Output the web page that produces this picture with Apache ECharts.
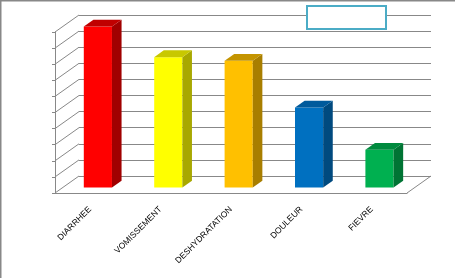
<!DOCTYPE html>
<html>
<head>
<meta charset="utf-8">
<script src="https://cdn.jsdelivr.net/npm/echarts@6/dist/echarts.min.js"></script>
<style>html,body{margin:0;padding:0;background:#fff}#c{width:455px;height:278px}</style>
</head>
<body>
<div id="c"></div>
<script>
var categories = ['DIARRHEE', 'VOMISSEMENT', 'DESHYDRATATION', 'DOULEUR', 'FIEVRE'];
var values = [10.0, 8.1, 7.87, 4.97, 2.35];
var tickValues = [0, 1, 2, 3, 4, 5, 6, 7, 8, 9, 10];

var frontColors = ['#FF0000', '#FFFF00', '#FFC000', '#0070C0', '#00B050'];
var sideColors = ['#A00000', '#A8A800', '#A87E00', '#004A7F', '#007434'];
var topColors = ['#C00000', '#C8C800', '#C49400', '#005A9C', '#008A3E'];

var DX = 24, DY = -17;          // depth of the floor in pixels
var F0 = 0.32, F1 = 0.72;        // bar front/back depth fractions
var GRID = '#888888';

var chart = echarts.init(document.getElementById('c'));

function barItem(params, api) {
  var i = api.value(0);
  var v = api.value(1);
  var top = api.coord([i, v]);
  var base = api.coord([i, 0]);
  var band = api.size([1, 0])[0];
  var w = band * 0.4;
  var fx = top[0] - w / 2 + DX * F0;
  var fy0 = base[1] + DY * F0;
  var fy1 = top[1] + DY * F0;
  var ddx = DX * (F1 - F0), ddy = DY * (F1 - F0);
  var idx = params.dataIndex;
  return {
    type: 'group',
    children: [
      { type: 'rect', shape: { x: fx, y: fy1, width: w, height: fy0 - fy1 },
        style: { fill: frontColors[idx] } },
      { type: 'polygon', shape: { points: [[fx + w, fy1], [fx + w + ddx, fy1 + ddy], [fx + w + ddx, fy0 + ddy], [fx + w, fy0]] },
        style: { fill: sideColors[idx] } },
      { type: 'polygon', shape: { points: [[fx, fy1], [fx + ddx, fy1 + ddy], [fx + w + ddx, fy1 + ddy], [fx + w, fy1]] },
        style: { fill: topColors[idx] } }
    ]
  };
}

function wallItem(params, api) {
  var v = api.value(0);
  var cs = params.coordSys;
  var p = api.coord([0, v]);
  var x = cs.x;
  var lines = [{ type: 'line', shape: { x1: x, y1: p[1], x2: x + DX, y2: p[1] + DY },
    style: { stroke: GRID, lineWidth: 1 } }];
  if (v === 0) {
    lines.push({ type: 'line', shape: { x1: cs.x + cs.width, y1: p[1], x2: cs.x + cs.width + DX, y2: p[1] + DY },
      style: { stroke: GRID, lineWidth: 1 } });
  }
  return { type: 'group', children: lines };
}

chart.setOption({
  animation: false,
  backgroundColor: '#ffffff',
  grid: [
    { left: 55, right: 48, top: 32, bottom: 85 },
    { left: 79, right: 24, top: 15, bottom: 102 }
  ],
  xAxis: [
    { type: 'category', gridIndex: 0, data: categories,
      axisLine: { lineStyle: { color: GRID } },
      axisTick: { length: 4, lineStyle: { color: GRID } },
      axisLabel: { rotate: 45, margin: 15, fontSize: 8.5, color: '#000', fontFamily: 'Liberation Sans', interval: 0 } },
    { type: 'category', gridIndex: 1, data: categories, show: false }
  ],
  yAxis: [
    { type: 'value', gridIndex: 0, min: 0, max: 10, interval: 1,
      axisLine: { show: true, lineStyle: { color: GRID } },
      axisTick: { show: true, length: 3, lineStyle: { color: GRID } },
      axisLabel: { show: false }, splitLine: { show: false } },
    { type: 'value', gridIndex: 1, min: 0, max: 10, interval: 1,
      axisLine: { show: false }, axisTick: { show: false }, axisLabel: { show: false },
      splitLine: { show: true, lineStyle: { color: GRID, width: 1 } } }
  ],
  series: [
    { type: 'custom', xAxisIndex: 0, yAxisIndex: 0, renderItem: wallItem,
      data: tickValues.map(function (t) { return [t]; }), encode: { y: 0 }, z: 1, silent: true },
    { type: 'custom', xAxisIndex: 0, yAxisIndex: 0, renderItem: barItem,
      data: values.map(function (v, i) { return [i, v]; }), encode: { x: 0, y: 1 }, z: 3 }
  ],
  graphic: [
    { type: 'rect', shape: { x: 0.5, y: 0.5, width: 600, height: 400 },
      style: { fill: null, stroke: GRID, lineWidth: 2 }, z: 10 },
    { type: 'rect', shape: { x: 307, y: 6, width: 79, height: 23 },
      style: { fill: '#fff', stroke: '#4BACC6', lineWidth: 2 }, z: 10 }
  ]
});
</script>
</body>
</html>
